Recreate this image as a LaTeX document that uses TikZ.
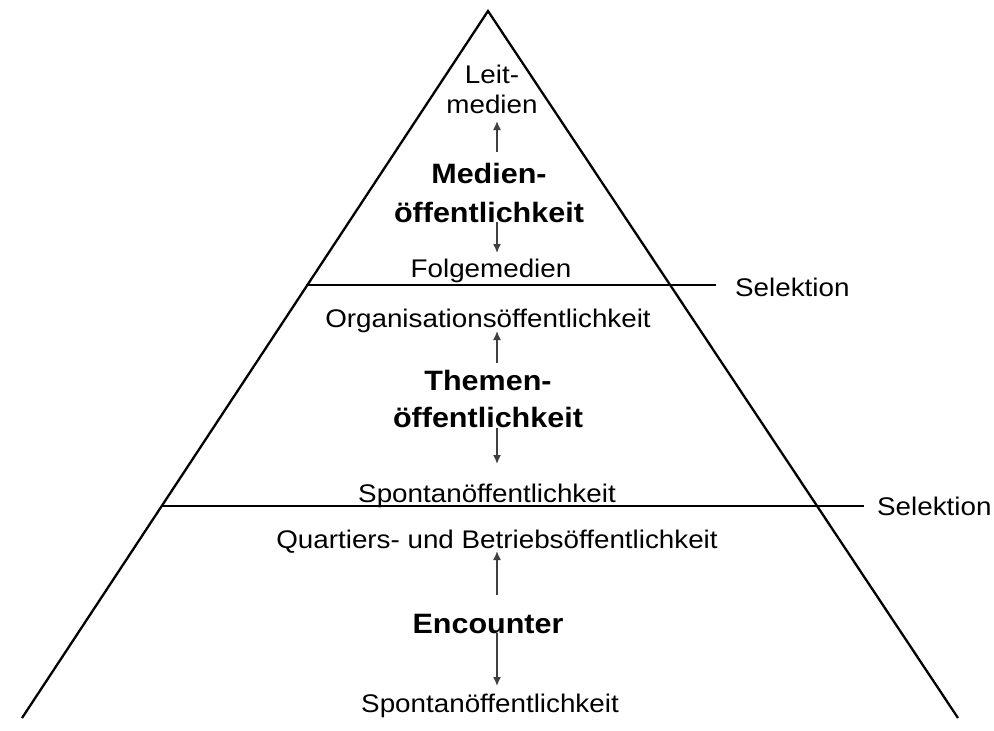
\documentclass[tikz,border=0pt]{standalone}
\usepackage{fontspec}
\setmainfont{Liberation Sans}
\usetikzlibrary{arrows.meta}
\newcommand{\hst}[1]{\scalebox{1.09}[1]{#1}}
\tikzset{
  lbl/.style={anchor=base, inner sep=0pt, font=\fontsize{25.5}{30}\selectfont},
  blbl/.style={anchor=base, inner sep=0pt, font=\fontsize{28}{34}\selectfont\bfseries},
  edge/.style={line width=2.3pt, black},
  arr/.style={line width=1.5pt, black!75, -{Latex[length=9pt,width=8pt]}}
}
\begin{document}
\begin{tikzpicture}[x=1pt,y=-1pt]
\useasboundingbox (0,0) rectangle (994,731);
% triangle
\coordinate (apex) at (488,11);
\coordinate (bl) at (22,718);
\coordinate (br) at (958,718);
\draw[edge, line join=miter] (bl) -- (apex) -- (br);
% selection lines
\coordinate (s1a) at (306,285);
\coordinate (s1b) at (716,285);
\coordinate (s2a) at (162,506);
\coordinate (s2b) at (864,506);
\draw[edge] (s1a) -- (s1b);
\draw[edge] (s2a) -- (s2b);
\node[lbl, anchor=base west] (sel1) at (735,296) {\hst{Selektion}};
\node[lbl, anchor=base west] (sel2) at (877,515) {\hst{Selektion}};
% top level
\node[lbl] (leit) at (492,83) {\hst{Leit-}};
\node[lbl] (leit2) at (492,113) {\hst{medien}};
\node[blbl] (med1) at (489,183) {\hst{Medien-}};
\node[blbl] (med2) at (489,222) {\hst{öffentlichkeit}};
\node[lbl] (folge) at (491,277) {\hst{Folgemedien}};
% middle level
\node[lbl] (org) at (488,327) {\hst{Organisationsöffentlichkeit}};
\node[blbl] (them1) at (488,390) {\hst{Themen-}};
\node[blbl] (them2) at (488,427) {\hst{öffentlichkeit}};
\node[lbl] (spont1) at (487,502) {\hst{Spontanöffentlichkeit}};
% bottom level
\node[lbl] (quart) at (497,548) {\hst{Quartiers- und Betriebsöffentlichkeit}};
\node[blbl] (enc) at (488,633) {\hst{Encounter}};
\node[lbl] (spont2) at (490,712) {\hst{Spontanöffentlichkeit}};
% arrows
\coordinate (a1s) at (497,152); \coordinate (a1e) at (497,121);
\coordinate (a2s) at (497,222); \coordinate (a2e) at (497,253);
\coordinate (a3s) at (497,363); \coordinate (a3e) at (497,331);
\coordinate (a4s) at (497,428); \coordinate (a4e) at (497,464);
\coordinate (a5s) at (497,595); \coordinate (a5e) at (497,551);
\coordinate (a6s) at (497,633); \coordinate (a6e) at (497,686);
\draw[arr] (a1s) -- (a1e);
\draw[arr] (a2s) -- (a2e);
\draw[arr] (a3s) -- (a3e);
\draw[arr] (a4s) -- (a4e);
\draw[arr] (a5s) -- (a5e);
\draw[arr] (a6s) -- (a6e);
\end{tikzpicture}
\end{document}
